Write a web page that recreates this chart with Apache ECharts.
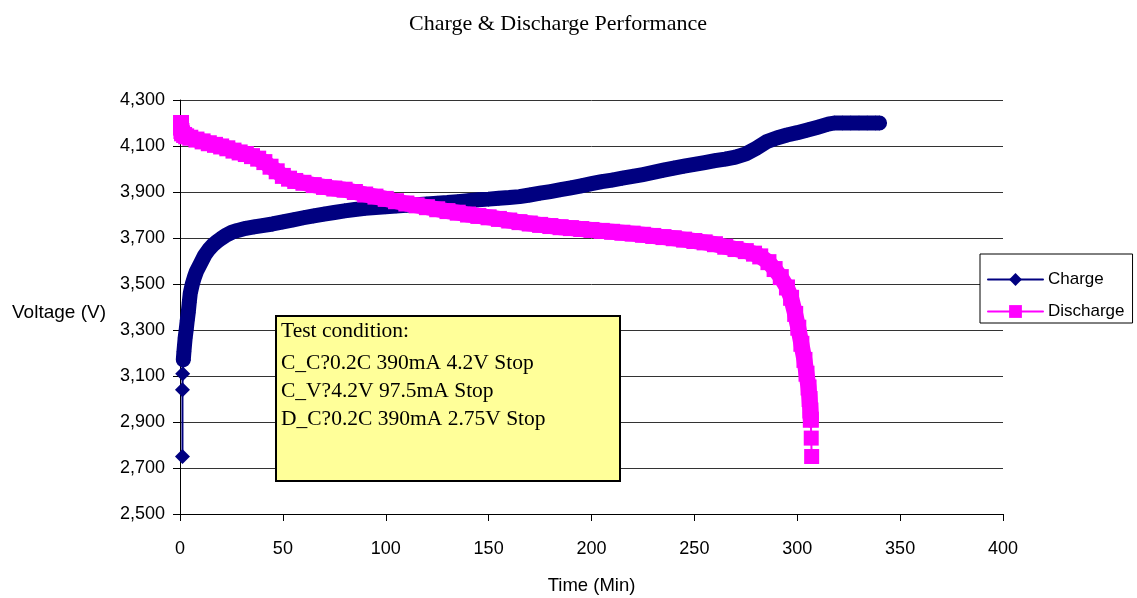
<!DOCTYPE html>
<html><head><meta charset="utf-8">
<script src="https://cdn.jsdelivr.net/npm/echarts/dist/echarts.min.js"></script>
<style>html,body{margin:0;padding:0;background:#fff}#c{width:1137px;height:598px}</style>
</head><body><div id="c"></div>
<script>
const titleText = 'Charge & Discharge Performance';
const xAxisName = 'Time (Min)';
const yAxisName = 'Voltage (V)';
const seriesNames = ['Charge', 'Discharge'];
const yTickLabels = ['2,500','2,700','2,900','3,100','3,300','3,500','3,700','3,900','4,100','4,300'];
const noteLines = ['Test condition:', 'C_C?0.2C 390mA 4.2V Stop', 'C_V?4.2V 97.5mA Stop', 'D_C?0.2C 390mA 2.75V Stop'];

const chargeHead = [[1.2,2750],[1.2,3040],[1.3,3110],[1.6,3170]];
const charge = [[1.6,3170],[1.9,3205],[2.2,3235],[2.5,3265],[3,3300],[3.5,3340],[4,3375],[4.5,3420],[5,3460],[6,3500],[7,3530],[8,3555],[10,3590],[12,3625],[14,3650],[16,3670],[18,3685],[20,3698],[22,3710],[25,3724],[28,3733],[32,3742],[36,3748],[40,3754],[45,3761],[50,3770],[55,3779],[60,3788],[65,3796],[70,3804],[75,3811],[80,3818],[85,3824],[90,3829],[95,3833],[100,3836],[105,3839],[110,3842],[115,3845],[120,3848],[125,3851],[130,3854],[135,3858],[140,3862],[145,3866],[150,3869],[155,3873],[160,3876],[165,3880],[170,3887],[175,3895],[180,3902],[185,3910],[190,3918],[195,3927],[200,3936],[205,3945],[210,3952],[215,3960],[220,3968],[225,3976],[230,3985],[235,3995],[240,4004],[245,4012],[250,4020],[255,4028],[260,4036],[265,4043],[270,4052],[275,4066],[280,4090],[285,4118],[290,4135],[295,4148],[300,4158],[305,4170],[310,4182],[315,4195],[318,4200],[322,4200],[326,4200],[330,4200],[334,4200],[338,4200],[340,4200]];
const discharge = [[0.5,4200],[0.5,4180],[0.7,4165],[1,4155],[2,4148],[3,4142],[5,4136],[8,4128],[11,4120],[14,4112],[17,4105],[20,4098],[23,4090],[26,4080],[29,4072],[32,4065],[35,4056],[38,4045],[41,4030],[44,4010],[47,3990],[50,3970],[53,3958],[56,3948],[60,3940],[65,3930],[70,3922],[75,3915],[80,3910],[85,3900],[90,3889],[95,3880],[100,3870],[105,3860],[110,3850],[115,3842],[120,3834],[125,3825],[130,3817],[135,3810],[140,3802],[145,3796],[150,3790],[155,3783],[160,3776],[165,3769],[170,3763],[175,3757],[180,3752],[185,3747],[190,3743],[195,3739],[200,3735],[205,3731],[210,3727],[215,3723],[220,3719],[225,3714],[230,3709],[235,3704],[240,3699],[245,3693],[250,3687],[255,3681],[260,3673],[265,3662],[270,3652],[275,3643],[279,3632],[282,3620],[286,3595],[289,3565],[292,3530],[295,3485],[297,3440],[299,3370],[300.5,3310],[302,3240],[303.5,3170],[304.5,3110],[305.5,3050],[306,3000],[306.4,2950],[306.6,2910]];
const dischargeTail = [[306.6,2910],[306.8,2830],[307,2750]];

const navy = '#000080', magenta = '#FF00FF';
const sans = 'Liberation Sans, Arial, sans-serif';
const serif = 'Liberation Serif, Times New Roman, serif';

const chart = echarts.init(document.getElementById('c'), null, {renderer: 'canvas'});
const noteY = [331, 363, 391.5, 419.5];
chart.setOption({
  animation: false,
  backgroundColor: '#fff',
  grid: {left: 180, right: 134, top: 100, bottom: 84, containLabel: false, outerBoundsMode: 'none'},
  legend: {
    data: seriesNames,
    orient: 'vertical', left: 980, top: 254,
    itemWidth: 55, itemHeight: 16, itemGap: 15,
    padding: [17, 8, 3, 7],
    borderColor: '#000', borderWidth: 1, backgroundColor: '#fff',
    textStyle: {fontFamily: sans, fontSize: 17, color: '#000'}
  },
  xAxis: {
    type: 'value', min: 0, max: 400, interval: 50,
    name: xAxisName, nameLocation: 'middle', nameGap: 62,
    nameTextStyle: {fontFamily: sans, fontSize: 18.5, color: '#000'},
    axisLine: {show: true, onZero: false, lineStyle: {color: '#000', width: 1}},
    axisTick: {show: true, inside: false, length: 7, lineStyle: {color: '#000'}},
    axisLabel: {fontFamily: sans, fontSize: 18, color: '#000', margin: 26},
    splitLine: {show: false}
  },
  yAxis: {
    type: 'value', min: 2500, max: 4300, interval: 200,
    axisLine: {show: true, lineStyle: {color: '#000', width: 1}},
    axisTick: {show: true, inside: false, length: 7, lineStyle: {color: '#000'}},
    axisLabel: {fontFamily: sans, fontSize: 18, color: '#000', margin: 15,
      formatter: v => yTickLabels[Math.round((v - 2500) / 200)]},
    splitLine: {show: true, lineStyle: {color: '#333', width: 1}}
  },
  series: [
    {name: '_chargeHead', type: 'line', data: chargeHead, symbol: 'diamond', symbolSize: 15,
     itemStyle: {color: navy}, lineStyle: {color: navy, width: 2}, z: 2, legendHoverLink: false},
    {name: seriesNames[0], type: 'line', data: charge, symbol: 'diamond', symbolSize: 15,
     itemStyle: {color: navy}, lineStyle: {color: navy, width: 15, cap: 'round', join: 'round'}, z: 2},
    {name: '_dischargeTail', type: 'line', data: dischargeTail, symbol: 'rect', symbolSize: 15,
     itemStyle: {color: magenta}, lineStyle: {color: magenta, width: 2}, z: 3},
    {name: seriesNames[1], type: 'line', data: discharge, symbol: 'rect', symbolSize: 16,
     itemStyle: {color: magenta}, lineStyle: {color: magenta, width: 16, cap: 'round', join: 'round'}, z: 3}
  ],
  graphic: [
    {type: 'text', x: 558, y: 24, z: 100,
     style: {text: titleText, fontFamily: serif, fontSize: 22, fill: '#000', align: 'center', verticalAlign: 'middle'}},
    {type: 'text', x: 12, y: 313, z: 100,
     style: {text: yAxisName, fontFamily: sans, fontSize: 19, fill: '#000', align: 'left', verticalAlign: 'middle'}},
    {type: 'rect', z: 100, shape: {x: 276, y: 316, width: 344, height: 165},
     style: {fill: '#FFFF99', stroke: '#000', lineWidth: 2}},
    ...noteLines.map((t, i) => ({type: 'text', x: 281, y: noteY[i], z: 101,
     style: {text: t, fontFamily: serif, fontSize: 21.5, fill: '#000', align: 'left', verticalAlign: 'middle'}}))
  ]
});
</script></body></html>
